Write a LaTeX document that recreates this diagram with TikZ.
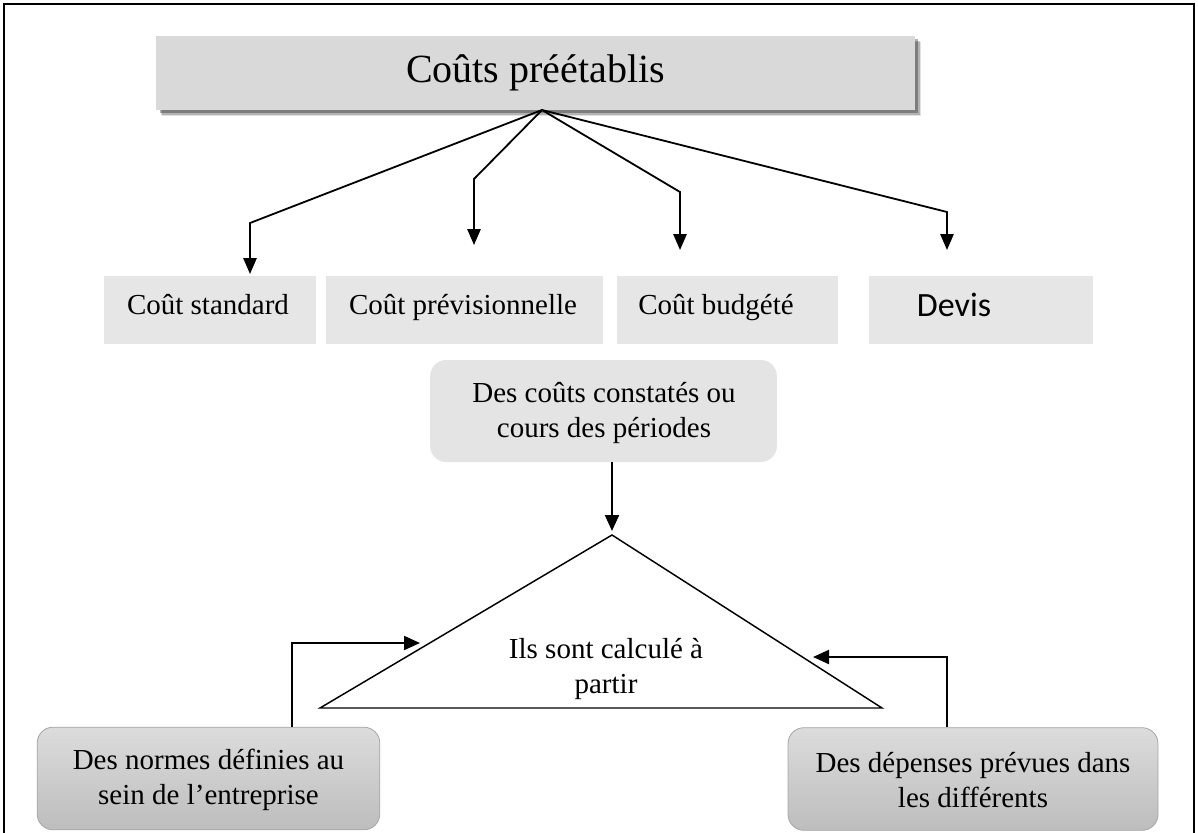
\documentclass[tikz,border=0pt]{standalone}
\usepackage{fontspec}
\setmainfont{Liberation Serif}
\newfontfamily\bodysans{Carlito}
\usetikzlibrary{arrows.meta,shadows}

\definecolor{headgray}{HTML}{D9D9D9}
\definecolor{cellgray}{HTML}{E6E6E6}
\definecolor{softgray}{HTML}{E4E4E4}
\definecolor{gradtop}{HTML}{DCDCDC}
\definecolor{gradbot}{HTML}{BDBDBD}
\definecolor{rimgray}{HTML}{A6A6A6}

\begin{document}
\begin{tikzpicture}[x=0.75pt,y=-0.75pt,
  txt/.style={font=\fontsize{21.75}{26.25}\selectfont, align=center, inner sep=0pt},
  headbox/.style={fill=headgray, draw=none, minimum width=569pt, minimum height=55.5pt,
    inner sep=0pt, font=\fontsize{30}{36}\selectfont,
    general shadow={shadow xshift=4.5pt, shadow yshift=-4.5pt, fill=black, opacity=.12},
    general shadow={shadow xshift=3.5pt, shadow yshift=-3.5pt, fill=black, opacity=.2},
    general shadow={shadow xshift=2.5pt, shadow yshift=-2.5pt, fill=black, opacity=.3}},
  cellbox/.style={fill=cellgray, draw=none, minimum height=51pt, inner sep=0pt},
  softbox/.style={fill=softgray, draw=none, rounded corners=12pt, minimum width=260pt,
    minimum height=76.5pt, inner sep=0pt},
  basebox/.style={top color=gradtop, bottom color=gradbot, draw=rimgray, line width=0.6pt,
    rounded corners=12pt, minimum height=77pt, inner sep=0pt},
  fan/.style={line width=1.35pt, -{Triangle[length=12pt,width=10pt]}},
  tip/.style={line width=1.6pt, -{Triangle[length=12pt,width=10.5pt]}},
  edge/.style={line width=1.1pt, line join=miter}]

\clip (0,0) rectangle (1198,832);

% outer frame (its lower side runs off the page)
\draw[line width=1.1pt] (4,4) rectangle (1194,900);

% heading
\node[headbox] (head) at (535.5,73) {Coûts préétablis};
\coordinate (apex) at (542,110);

% the four kinds of cost
\node[cellbox, minimum width=159pt]    (c1) at (210,310) {};
\node[cellbox, minimum width=207.75pt] (c2) at (464.5,310) {};
\node[cellbox, minimum width=165.75pt] (c3) at (727.5,310) {};
\node[cellbox, minimum width=168pt]    (c4) at (981,310) {};
\node[txt, anchor=base] (c1t) at (208,314) {Coût standard};
\node[txt, anchor=base] (c2t) at (463,314) {Coût prévisionnelle};
\node[txt, anchor=base] (c3t) at (716,314) {Coût budgété};
\node[inner sep=0pt, anchor=base, font=\bodysans\fontsize{25.5}{30}\selectfont] (c4t) at (954,316) {Devis};

% fan of connectors from the heading
\coordinate (k1) at (250,223); \coordinate (e1) at (250,274);
\coordinate (k2) at (474,179); \coordinate (e2) at (474,245);
\coordinate (k3) at (680,192); \coordinate (e3) at (680,250);
\coordinate (k4) at (947,212); \coordinate (e4) at (947,250);
\draw[fan] (apex) -- (k1) -- (e1);
\draw[fan] (apex) -- (k2) -- (e2);
\draw[fan] (apex) -- (k3) -- (e3);
\draw[fan] (apex) -- (k4) -- (e4);

% observed costs
\node[softbox] (mid) at (603.5,411) {};
\node[txt] (midt) at (604,413) {Des coûts constatés ou\\cours des périodes};

% triangle
\coordinate (tA) at (612,535);
\coordinate (tL) at (320,708);
\coordinate (tR) at (882,708);
\draw[edge] (tA) -- (tL) -- (tR) -- cycle;
\node[txt] (tri) at (606,669) {Ils sont calculé à\\partir};

\draw[tip] (tA |- mid.south) -- (612,531);

% the two sources
\node[basebox, minimum width=257pt] (bl) at (208.5,778.5) {};
\node[basebox, minimum width=277.5pt] (br) at (973,779) {};
\node[txt] (blt) at (208.5,780) {Des normes définies au\\sein de l’entreprise};
\node[txt] (brt) at (973,780) {Des dépenses prévues dans\\les différents};

\coordinate (fL) at (292,643); \coordinate (fLend) at (420,643);
\coordinate (fR) at (947,657); \coordinate (fRend) at (813,657);
\draw[tip] (bl.north -| fL) -- (fL) -- (fLend);
\draw[tip] (br.north -| fR) -- (fR) -- (fRend);
\end{tikzpicture}
\end{document}
